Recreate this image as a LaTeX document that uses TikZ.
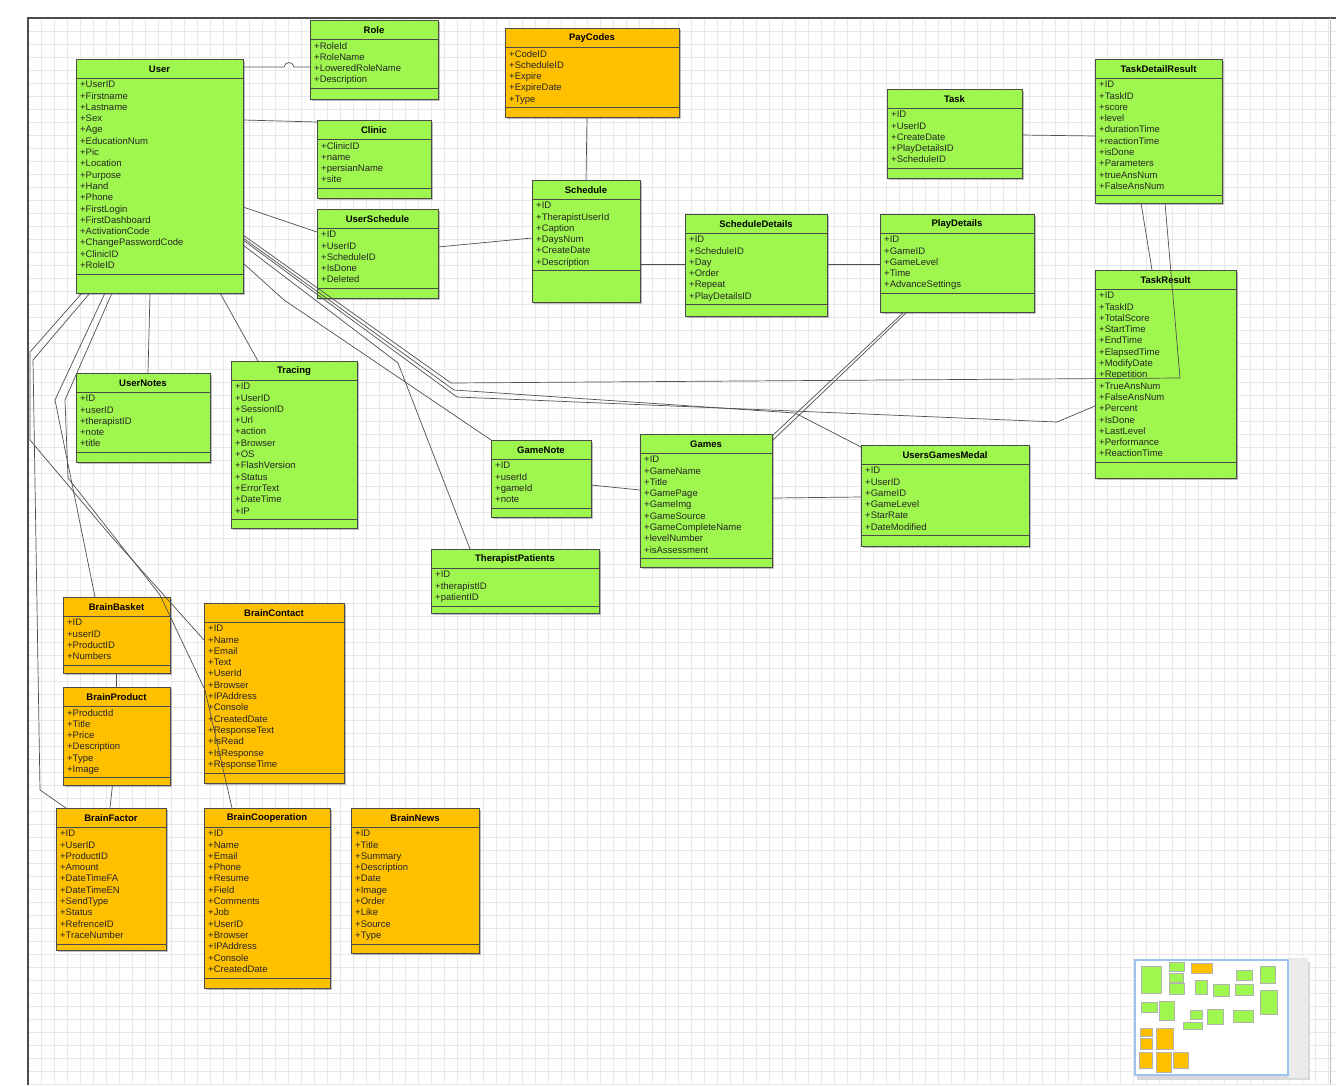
\documentclass[tikz,border=0pt]{standalone}
\usepackage{fontspec}
\setmainfont{Liberation Sans}
\usetikzlibrary{calc,shadows}
\definecolor{umlgreen}{HTML}{9EF64E}
\definecolor{umlorange}{HTML}{FFC000}
\definecolor{umledge}{HTML}{4A4A4A}
\definecolor{conncol}{HTML}{505050}
\definecolor{gridcol}{HTML}{E8E8E8}
\definecolor{minib}{HTML}{9CC3EE}
\tikzset{
 cls/.style={draw=umledge, line width=0.8pt, inner sep=0pt, outer sep=0pt, rectangle,
   drop shadow={shadow xshift=1.5pt, shadow yshift=-1.5pt, opacity=0.25, fill=black}},
 clstitle/.style={font=\fontsize{9.5}{11}\selectfont\bfseries, inner sep=0pt, text=black},
 clsattr/.style={font=\fontsize{9.5}{11.3}\selectfont, inner sep=0pt, align=left, text=black!85},
 clsline/.style={draw=umledge, line width=0.7pt},
 conn/.style={draw=conncol, line width=0.7pt},
 gridln/.style={draw=gridcol, line width=0.5pt},
}
\newcommand{\umlclass}[9]{%
  \node[cls, fill=#6, minimum width=#4pt, minimum height=#5pt, anchor=north west] (#1) at (#2,#3) {};
  \node[clstitle] (#1t) at ($(#1.north)+(0,10)$) {#7};
  \draw[clsline] ($(#1.north west)+(0,19)$) -- ($(#1.north east)+(0,19)$);
  \node[clsattr, anchor=north west] (#1a) at ($(#1.north west)+(4,22)$) {#8};
  \draw[clsline] ($(#1.north west)+(0,{23+#9*11.3})$) -- ($(#1.north east)+(0,{23+#9*11.3})$);
}
\begin{document}
\begin{tikzpicture}[x=1pt,y=-1pt]
\useasboundingbox (0,0) rectangle (1336,1085);
\fill[white] (0,0) rectangle (1336,1085);
% grid
\foreach \gx in {28,41,...,1336} \draw[gridln] (\gx,18) -- (\gx,1085);
\foreach \gy in {18,31,...,1085} \draw[gridln] (28,\gy) -- (1336,\gy);
% frame
\draw[draw=black!70, line width=2pt] (28,1085) -- (28,18) -- (1336,18);
\draw[draw=black!25, line width=0.8pt] (1330,18) -- (1330,1085);

\coordinate (hopA) at (284,67);
\coordinate (hopB) at (294,67);

% ---------- classes ----------
\umlclass{user}{76}{59}{167}{234}{umlgreen}{User}{+UserID\\+Firstname\\+Lastname\\+Sex\\+Age\\+EducationNum\\+Pic\\+Location\\+Purpose\\+Hand\\+Phone\\+FirstLogin\\+FirstDashboard\\+ActivationCode\\+ChangePasswordCode\\+ClinicID\\+RoleID}{17}
\umlclass{role}{310}{20}{128}{79}{umlgreen}{Role}{+RoleId\\+RoleName\\+LoweredRoleName\\+Description}{4}
\umlclass{paycodes}{505}{28}{174}{89}{umlorange}{PayCodes}{+CodeID\\+ScheduleID\\+Expire\\+ExpireDate\\+Type}{5}
\umlclass{clinic}{317}{120}{114}{78}{umlgreen}{Clinic}{+ClinicID\\+name\\+persianName\\+site}{4}
\umlclass{usersch}{317}{209}{121}{89}{umlgreen}{UserSchedule}{+ID\\+UserID\\+ScheduleID\\+IsDone\\+Deleted}{5}
\umlclass{schedule}{532}{180}{108}{122}{umlgreen}{Schedule}{+ID\\+TherapistUserId\\+Caption\\+DaysNum\\+CreateDate\\+Description}{6}
\umlclass{scheddet}{685}{214}{142}{102}{umlgreen}{ScheduleDetails}{+ID\\+ScheduleID\\+Day\\+Order\\+Repeat\\+PlayDetailsID}{6}
\umlclass{playdet}{880}{214}{154}{98}{umlgreen}{PlayDetails}{+ID\\+GameID\\+GameLevel\\+Time\\+AdvanceSettings}{5}
\umlclass{task}{887}{89}{135}{89}{umlgreen}{Task}{+ID\\+UserID\\+CreateDate\\+PlayDetailsID\\+ScheduleID}{5}
\umlclass{tdr}{1095}{59}{127}{144}{umlgreen}{TaskDetailResult}{+ID\\+TaskID\\+score\\+level\\+durationTime\\+reactionTime\\+isDone\\+Parameters\\+trueAnsNum\\+FalseAnsNum}{10}
\umlclass{taskres}{1095}{270}{141}{208}{umlgreen}{TaskResult}{+ID\\+TaskID\\+TotalScore\\+StartTime\\+EndTime\\+ElapsedTime\\+ModifyDate\\+Repetition\\+TrueAnsNum\\+FalseAnsNum\\+Percent\\+IsDone\\+LastLevel\\+Performance\\+ReactionTime}{15}
\umlclass{usernotes}{76}{373}{134}{89}{umlgreen}{UserNotes}{+ID\\+userID\\+therapistID\\+note\\+title}{5}
\umlclass{tracing}{231}{361}{126}{167}{umlgreen}{Tracing}{+ID\\+UserID\\+SessionID\\+Url\\+action\\+Browser\\+OS\\+FlashVersion\\+Status\\+ErrorText\\+DateTime\\+IP}{12}
\umlclass{gamenote}{491}{440}{100}{77}{umlgreen}{GameNote}{+ID\\+userId\\+gameId\\+note}{4}
\umlclass{games}{640}{434}{132}{133}{umlgreen}{Games}{+ID\\+GameName\\+Title\\+GamePage\\+GameImg\\+GameSource\\+GameCompleteName\\+levelNumber\\+isAssessment}{9}
\umlclass{ugm}{861}{445}{168}{101}{umlgreen}{UsersGamesMedal}{+ID\\+UserID\\+GameID\\+GameLevel\\+StarRate\\+DateModified}{6}
\umlclass{tp}{431}{549}{168}{64}{umlgreen}{TherapistPatients}{+ID\\+therapistID\\+patientID}{3}
\umlclass{bb}{63}{597}{107}{76}{umlorange}{BrainBasket}{+ID\\+userID\\+ProductID\\+Numbers}{4}
\umlclass{bc}{204}{603}{140}{180}{umlorange}{BrainContact}{+ID\\+Name\\+Email\\+Text\\+UserId\\+Browser\\+IPAddress\\+Console\\+CreatedDate\\+ResponseText\\+IsRead\\+IsResponse\\+ResponseTime}{13}
\umlclass{bp}{63}{687}{107}{98}{umlorange}{BrainProduct}{+ProductId\\+Title\\+Price\\+Description\\+Type\\+Image}{6}
\umlclass{bf}{56}{808}{110}{142}{umlorange}{BrainFactor}{+ID\\+UserID\\+ProductID\\+Amount\\+DateTimeFA\\+DateTimeEN\\+SendType\\+Status\\+RefrenceID\\+TraceNumber}{10}
\umlclass{bcoop}{204}{808}{126}{180}{umlorange}{BrainCooperation}{+ID\\+Name\\+Email\\+Phone\\+Resume\\+Field\\+Comments\\+Job\\+UserID\\+Browser\\+IPAddress\\+Console\\+CreatedDate}{13}
\umlclass{bn}{351}{808}{128}{145}{umlorange}{BrainNews}{+ID\\+Title\\+Summary\\+Description\\+Date\\+Image\\+Order\\+Like\\+Source\\+Type}{10}

% ---------- connectors ----------
\draw[conn] ($(user.north east)+(0,8)$) -- (hopA) .. controls (285,61) and (293,61) .. (hopB) -- ($(role.north west)+(0,47)$);
\draw[conn] ($(user.north east)+(0,61)$) -- ($(clinic.north west)+(0,2)$);
\draw[conn] ($(user.north east)+(0,148)$) -- ($(usersch.north west)+(0,23)$);
\draw[conn] ($(usersch.north east)+(0,38)$) -- ($(schedule.north west)+(0,58)$);
\draw[conn] ($(paycodes.south)+(-5,0)$) -- ($(schedule.north)+(0,0)$);
\draw[conn] ($(schedule.north east)+(0,84)$) -- ($(scheddet.north west)+(0,50)$);
\draw[conn] ($(scheddet.north east)+(0,50)$) -- ($(playdet.north west)+(0,50)$);
\draw[conn] ($(task.north east)+(0,46)$) -- ($(tdr.north west)+(0,77)$);
\draw[conn] ($(tdr.south west)+(46,0)$) -- ($(taskres.north west)+(57,0)$);
\draw[conn] ($(user.north east)+(0,176)$) -- (451,383) -- (1180,378) -- ($(tdr.south west)+(70,0)$);
\draw[conn] ($(user.north east)+(0,181)$) -- (457,397) -- (1057,422) -- ($(taskres.north west)+(0,136)$);
\draw[conn] ($(user.north east)+(0,179)$) -- (454,390) -- (795,413) -- ($(ugm.north west)+(0,2)$);
\draw[conn] ($(user.north east)+(0,186)$) -- (398,363) -- ($(tp.north west)+(39,0)$);
\draw[conn] ($(user.north east)+(0,204)$) -- (284,300) -- ($(gamenote.north west)+(0,0)$);
\draw[conn] ($(user.south west)+(74,0)$) -- ($(usernotes.north west)+(72,0)$);
\draw[conn] ($(user.south west)+(144,0)$) -- ($(tracing.north west)+(27,0)$);
\draw[conn] ($(user.south west)+(29,0)$) -- (55,400) -- ($(bb.north west)+(32,0)$);
\draw[conn] ($(user.south west)+(14,0)$) -- (33,360) -- (40,790) -- ($(bf.north west)+(10,0)$);
\draw[conn] ($(user.south west)+(6,0)$) -- (30,352) -- (30,440) -- (110,535) -- ($(bc.north west)+(0,37)$);
\draw[conn] ($(user.south west)+(36,0)$) -- (65,400) -- (68,478) -- (160,595) -- (205,690) -- ($(bcoop.north west)+(28,0)$);
\draw[conn] ($(gamenote.north east)+(0,45)$) -- ($(games.north west)+(0,56)$);
\draw[conn] ($(games.north east)+(0,64)$) -- ($(ugm.north west)+(0,52)$);
\draw[conn] ($(games.north east)+(0,2)$) -- ($(playdet.south west)+(24,0)$);
\draw[conn] ($(games.north east)+(0,7)$) -- ($(playdet.south west)+(27,0)$);
\draw[conn] (bb.south) -- (bp.north);
\draw[conn] ($(bp.south)+(-4,0)$) -- ($(bf.north)+(-1,0)$);

% ---------- minimap ----------
\fill[black!15] (1137,962) rectangle (1310,1080);
\fill[black!8] (1288,958) rectangle (1308,1078);
\filldraw[fill=white, draw=minib, line width=1.5pt] (1135,960) rectangle (1288,1075);
\begin{scope}[shift={(1132.5,959.7)}, xscale=0.117, yscale=0.114]
\foreach \bx/\by/\bw/\bh/\bc in {76/59/167/234/umlgreen, 310/20/128/79/umlgreen, 505/28/174/89/umlorange,
  317/120/114/78/umlgreen, 317/209/121/89/umlgreen, 532/180/108/122/umlgreen, 685/214/142/102/umlgreen,
  880/214/154/98/umlgreen, 887/89/135/89/umlgreen, 1095/59/127/144/umlgreen, 1095/270/141/208/umlgreen,
  76/373/134/89/umlgreen, 231/361/126/167/umlgreen, 491/440/100/77/umlgreen, 640/434/132/133/umlgreen,
  861/445/168/101/umlgreen, 431/549/168/64/umlgreen, 63/597/107/76/umlorange, 204/603/140/180/umlorange,
  63/687/107/98/umlorange, 56/808/110/142/umlorange, 204/808/126/180/umlorange, 351/808/128/145/umlorange}
  \filldraw[fill=\bc, draw=black!30, line width=0.3pt] (\bx,\by) rectangle ++(\bw,\bh);
\end{scope}
\end{tikzpicture}
\end{document}
